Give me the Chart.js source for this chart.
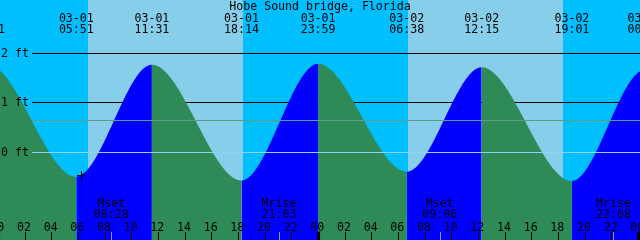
<!DOCTYPE html>
<html>
<head>
<meta charset="utf-8">
<script src="https://cdn.jsdelivr.net/npm/chart.js@4/dist/chart.umd.min.js"></script>
<style>
  html, body { margin: 0; padding: 0; background: #00bfff; }
  #wrap { width: 640px; height: 240px; }
</style>
</head>
<body>
<div id="wrap"><canvas id="tideChart" width="640" height="240"></canvas></div>
<script>
// hours counted from 03-01 00:00; first and last entries lie outside the view
const tideHours   = [-7.05, -0.817, 5.85, 11.517, 18.233, 23.983, 30.633, 36.25, 43.017, 48.5, 54.9];
const tideHeights = [-0.5, 1.78, -0.49, 1.77, -0.57, 1.79, -0.39, 1.72, -0.58, 1.67, -0.45];
const tideDates   = ['', '', '03-01', '03-01', '03-01', '03-01', '03-02', '03-02', '03-02', '03-03', ''];
const tideTimes   = ['', '23:11', '05:51', '11:31', '18:14', '23:59', '06:38', '12:15', '19:01', '00:30', ''];

const sunriseHours = [6.73, 30.72];
const sunsetHours  = [18.35, 42.37];

const moonHours  = [8.467, 21.05, 33.1, 46.133];
const moonEvents = ['Mset', 'Mrise', 'Mset', 'Mrise'];
const moonTimes  = ['08:28', '21:03', '09:06', '22:08'];

const hourTicks  = [0, 2, 4, 6, 8, 10, 12, 14, 16, 18, 20, 22, 24, 26, 28, 30, 32, 34, 36, 38, 40, 42, 44, 46, 48];
const hourLabels = ['00', '02', '04', '06', '08', '10', '12', '14', '16', '18', '20', '22',
                    '00', '02', '04', '06', '08', '10', '12', '14', '16', '18', '20', '22', '00'];

const levelValues = [2, 1, 0];
const levelLabels = ['2 ft', '1 ft', '0 ft'];
const meanLevel = 0.65;
const nowHour = 6.22;
const nowHeight = -0.46;

const title = 'Hobe Sound bridge, Florida';

const DAY = '#87ceeb', NIGHT = '#00bfff';
const RISE = '#0000ff', FALL = '#2e8b57';
const FONT = '11.6px "DejaVu Sans Mono", "Liberation Mono", monospace';

const tidePlugin = {
  id: 'tide',
  beforeDatasetsDraw(chart) {
    const {ctx, chartArea: a, scales: {x, y}} = chart;
    ctx.save();
    ctx.fillStyle = NIGHT;
    ctx.fillRect(a.left, a.top, a.width, a.height);
    ctx.fillStyle = DAY;
    sunriseHours.forEach((h, i) => {
      const x0 = Math.round(x.getPixelForValue(h));
      const x1 = Math.round(x.getPixelForValue(sunsetHours[i]));
      ctx.fillRect(x0, a.top, x1 - x0, a.height);
    });
    // black level lines sit under the water
    ctx.fillStyle = '#000';
    levelValues.forEach(v => {
      if (v === 0) return;
      ctx.fillRect(32, Math.floor(y.getPixelForValue(v)), a.right - 32, 1);
    });
    ctx.restore();
  },
  afterDatasetsDraw(chart) {
    const {ctx, chartArea: a, scales: {x, y}} = chart;
    ctx.save();
    // mean level and datum lines drawn over the water
    ctx.fillStyle = 'rgb(92,158,142)';
    ctx.fillRect(32, Math.floor(y.getPixelForValue(meanLevel)), a.right - 32, 1);
    ctx.fillStyle = '#8fd3ee';
    ctx.fillRect(32, Math.floor(y.getPixelForValue(0)), a.right - 32, 1);

    ctx.font = FONT;
    ctx.fillStyle = '#000';
    ctx.textBaseline = 'alphabetic';

    // level labels
    ctx.textAlign = 'left';
    levelValues.forEach((v, i) => {
      ctx.fillText(levelLabels[i], 1, Math.floor(y.getPixelForValue(v)) + 4);
    });

    // title and tide events
    ctx.textAlign = 'center';
    ctx.fillText(title, 320, 10);
    tideHours.forEach((h, i) => {
      const px = x.getPixelForValue(h);
      ctx.fillText(tideDates[i], px, 21.5);
      ctx.fillText(tideTimes[i], px, 33);
    });

    // moon events
    moonHours.forEach((h, i) => {
      const px = x.getPixelForValue(h);
      ctx.fillText(moonEvents[i], px, 206.5);
      ctx.fillText(moonTimes[i], px, 218);
    });
    ctx.fillStyle = '#8a9aa8';
    moonHours.forEach(h => {
      ctx.fillRect(Math.round(x.getPixelForValue(h)), 232, 1, 8);
    });

    // hour ticks and labels
    ctx.fillStyle = '#000';
    hourTicks.forEach((h, i) => {
      const px = x.getPixelForValue(h);
      ctx.fillText(hourLabels[i], px - 1, 230.5);
      if (h % 24 === 0) ctx.fillRect(px - 1.3, 231.5, 3, 9);
      else ctx.fillRect(Math.floor(px), 232, 1, 8);
    });

    // current time marker
    const nx = Math.round(x.getPixelForValue(nowHour));
    const ny = Math.round(y.getPixelForValue(nowHeight));
    ctx.fillRect(nx - 4, ny, 9, 1);
    ctx.fillRect(nx, ny - 4, 1, 9);
    ctx.restore();
  }
};

const ctx = document.getElementById('tideChart').getContext('2d');
new Chart(ctx, {
  type: 'line',
  data: {
    datasets: [{
      data: tideHours.map((h, i) => ({x: h, y: tideHeights[i]})),
      fill: 'start',
      backgroundColor: FALL,
      borderWidth: 0,
      pointRadius: 0,
      cubicInterpolationMode: 'monotone',
      segment: {
        backgroundColor: c => (c.p1.parsed.y > c.p0.parsed.y ? RISE : FALL)
      }
    }]
  },
  options: {
    responsive: false,
    animation: false,
    events: [],
    layout: { padding: 0 },
    plugins: { legend: { display: false }, tooltip: { enabled: false } },
    scales: {
      x: { type: 'linear', min: 0.125, max: 48.125, display: false },
      y: { type: 'linear', min: -1.77, max: 3.079, display: false }
    }
  },
  plugins: [tidePlugin]
});
</script>
</body>
</html>
